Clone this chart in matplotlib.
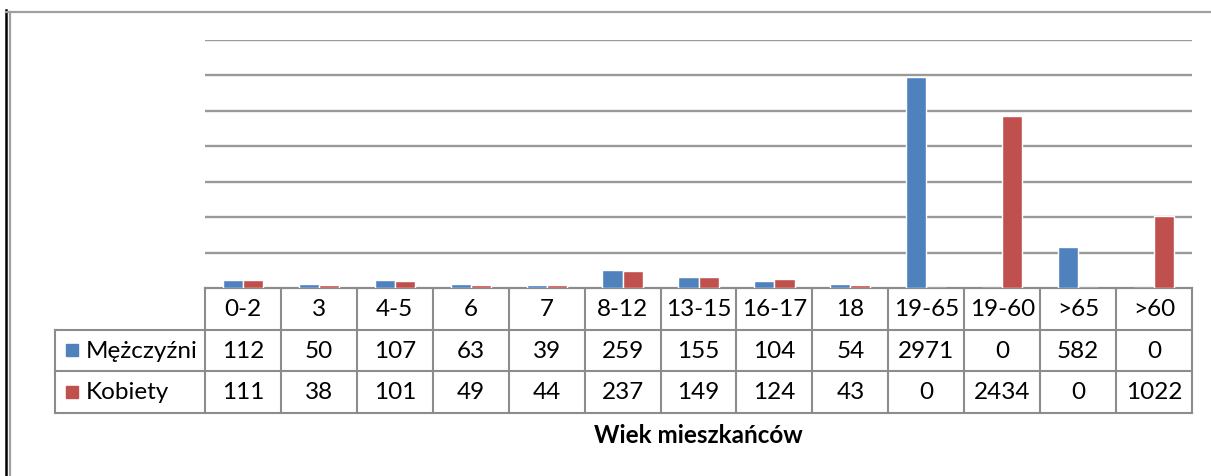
import numpy as np
import matplotlib
matplotlib.use("Agg")
import matplotlib.pyplot as plt
from matplotlib.lines import Line2D
from matplotlib.patches import Rectangle
import matplotlib.transforms as mtransforms

plt.rcParams['font.family'] = ['Lato', 'DejaVu Sans']

# data
age_groups = ["0-2", "3", "4-5", "6", "7", "8-12", "13-15", "16-17", "18",
              "19-65", "19-60", ">65", ">60"]
men = [112, 50, 107, 63, 39, 259, 155, 104, 54, 2971, 0, 582, 0]
women = [111, 38, 101, 49, 44, 237, 149, 124, 43, 0, 2434, 0, 1022]
series_names = ["Mężczyźni", "Kobiety"]
series_colors = ["#4F81BD", "#C0504D"]
x_title = "Wiek mieszkańców"

W, H = 1211, 477
fig = plt.figure(figsize=(W / 100, H / 100), dpi=100)
ax = fig.add_axes([205 / W, 1 - 289 / H, (1192 - 205) / W, (289 - 41) / H])

x = np.arange(len(age_groups))
bw = 0.265
ax.bar(x - bw / 2, men, width=bw, color=series_colors[0], edgecolor="white",
       linewidth=1, zorder=3)
ax.bar(x + bw / 2, women, width=bw, color=series_colors[1], edgecolor="white",
       linewidth=1, zorder=3)

ax.set_xlim(-0.5, len(age_groups) - 0.5)
ax.set_ylim(0, 3500)
ax.set_yticks(np.arange(500, 3501, 500))
ax.yaxis.grid(True, color="#999999", linewidth=1.7)
ax.set_axisbelow(True)
ax.tick_params(left=False, labelleft=False, bottom=False, labelbottom=False)
for s in ["top", "right", "left"]:
    ax.spines[s].set_visible(False)
ax.spines["bottom"].set_color("#8c8c8c")
ax.spines["bottom"].set_linewidth(1.6)

# data table below the axis
tr = mtransforms.blended_transform_factory(ax.transData, ax.transAxes)
rh = 41.5 / (289 - 41)
lab_left = -0.5 - 150 / ((1192 - 205) / len(age_groups))
lc = "#8c8c8c"
lw = 1.5
n = len(age_groups)

def hline(x0, x1, y):
    ax.add_line(Line2D([x0, x1], [y, y], transform=tr, color=lc, lw=lw,
                       clip_on=False))

def vline(xv, y0, y1):
    ax.add_line(Line2D([xv, xv], [y0, y1], transform=tr, color=lc, lw=lw,
                       clip_on=False))

hline(lab_left, n - 0.5, -rh)
hline(lab_left, n - 0.5, -2 * rh)
hline(lab_left, n - 0.5, -3 * rh)
for i in range(n + 1):
    vline(i - 0.5, 0, -3 * rh)
vline(lab_left, -rh, -3 * rh)

fs = 17.5
for i, g in enumerate(age_groups):
    ax.text(i, -0.5 * rh, g, transform=tr, ha="center", va="center",
            fontsize=fs, clip_on=False)
    ax.text(i, -1.5 * rh, str(men[i]), transform=tr, ha="center",
            va="center", fontsize=fs, clip_on=False)
    ax.text(i, -2.5 * rh, str(women[i]), transform=tr, ha="center",
            va="center", fontsize=fs, clip_on=False)

# legend keys in the row labels
unit = (1192 - 205) / n
for r, (name, col) in enumerate(zip(series_names, series_colors)):
    yc = -(1.5 + r) * rh
    sq = 12 / (289 - 41)
    ax.add_patch(Rectangle((lab_left + 11 / unit, yc - sq / 2), 12 / unit, sq,
                           transform=tr, color=col, clip_on=False))
    ax.text(lab_left + 31 / unit, yc, name, transform=tr, ha="left",
            va="center", fontsize=fs, clip_on=False)

fig.text(698 / W, 1 - 436 / H, x_title, ha="center", va="center",
         fontsize=17.5, fontweight="bold")

# outer chart frame
fig.add_artist(Line2D([6 / W, 6 / W], [0, 1 - 11 / H], color="black", lw=1.8))
fig.add_artist(Line2D([10 / W, 10 / W], [0, 1 - 13 / H], color="#a0a0a0", lw=1.6))
fig.add_artist(Line2D([6 / W, 1], [1 - 12.5 / H, 1 - 12.5 / H], color="#a0a0a0", lw=1.6))

fig.savefig("out.png", dpi=100)
